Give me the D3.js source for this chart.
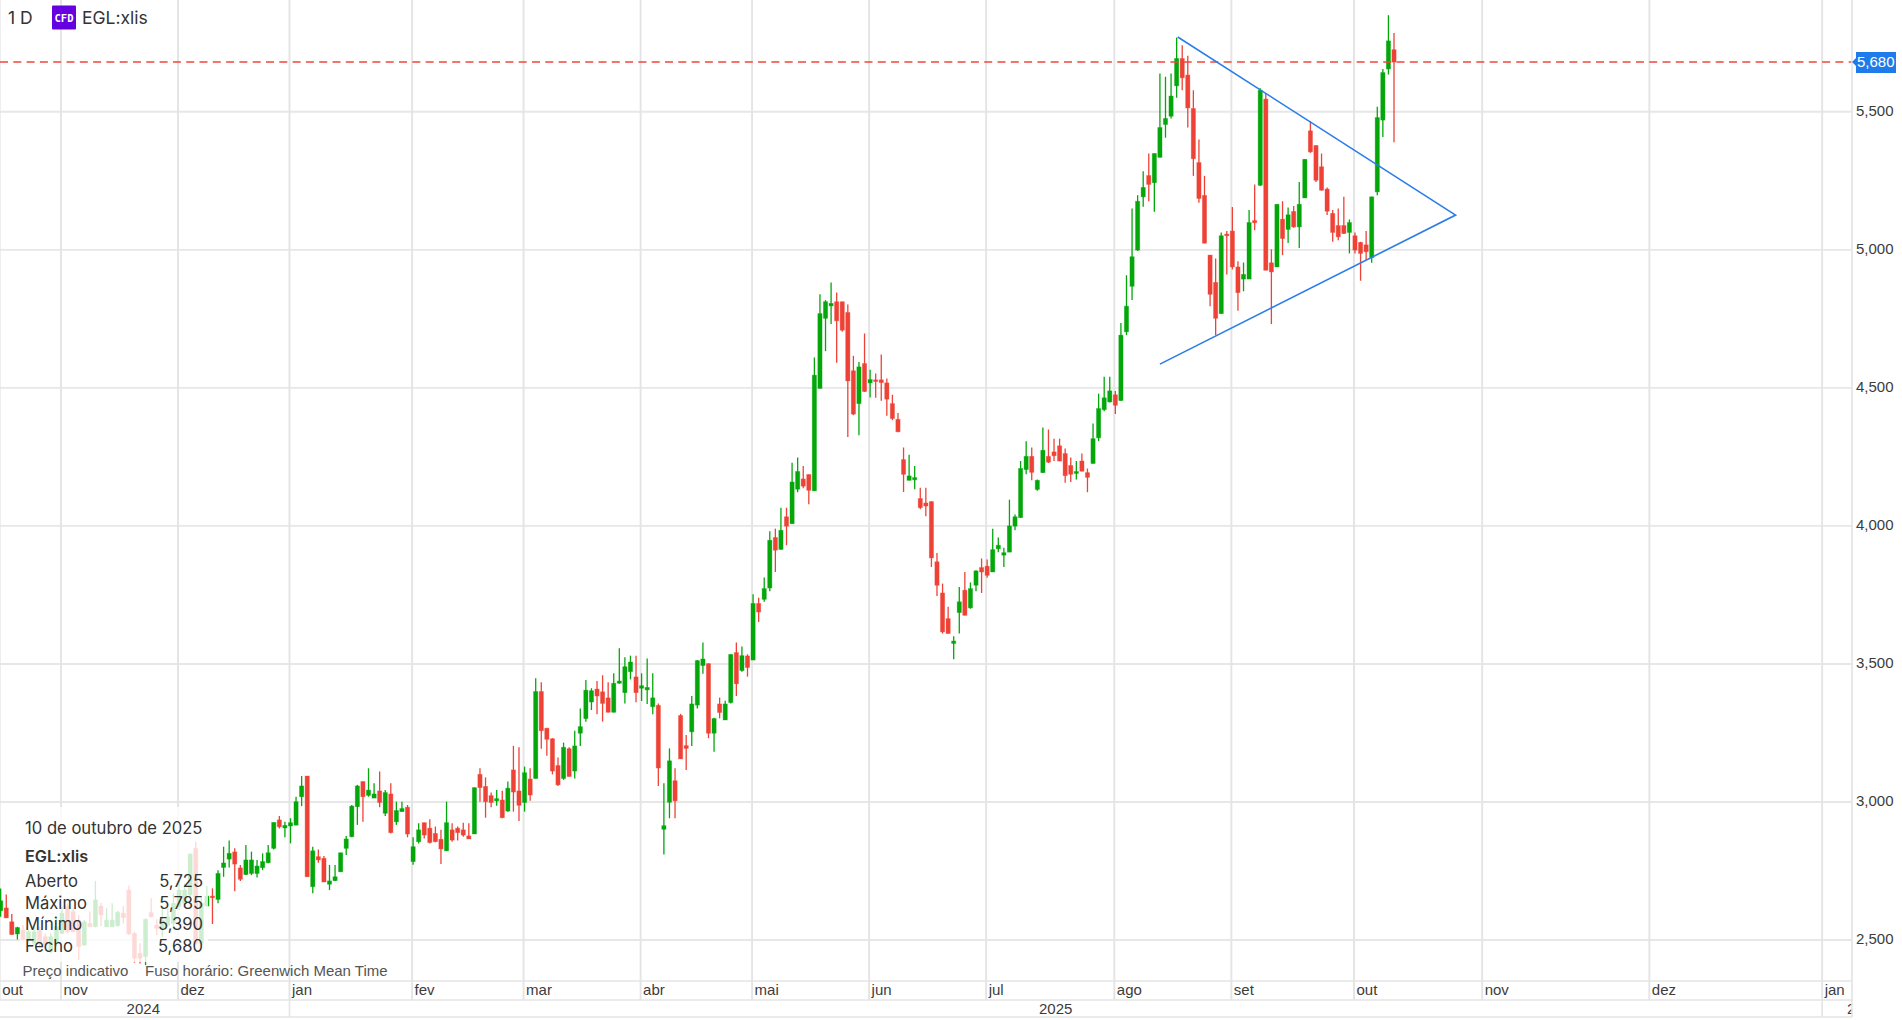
<!DOCTYPE html>
<html><head><meta charset="utf-8">
<script src="https://cdn.jsdelivr.net/npm/d3@7/dist/d3.min.js"></script>
<style>html,body{margin:0;padding:0;background:#fff;overflow:hidden}svg{display:block}
.ax text{font-family:"Liberation Sans",Arial,sans-serif;font-size:15px;fill:#3c3c3c}
.in{font-family:Inter,sans-serif;fill:#333}</style></head><body>
<script>
const opens=[2606,2616,2566,2522,2536,2500,2488,2536,2512,2458,2488,
2524,2621,2603,2572,2482,2560,2548,2623,2548,2548,2552,2597,2681,2524,2452,2440,2599,2554,2542,2554,2560,
2621,2633,2663,2832,2488,2623,2659,2647,2763,2793,2819,2761,2737,2741,2741,2762,2780,2832,2935,2906,
2913,2916,3019,3094,2693,2802,2796,2702,2715,2747,2832,2874,2983,3074,3024,3014,3040,2959,3029,2928,2965,2981,
2784,2856,2925,2905,2886,2865,2823,2899,2905,2899,2877,2884,3100,3056,3023,3004,3007,2967,3116,3040,
2998,3083,3085,3400,3267,3229,3132,3085,3193,3112,3249,3302,3362,3409,3399,3377,3325,3430,3396,3472,3453,
3412,3406,3345,3350,2901,2999,3077,3313,3204,3254,3351,3494,3501,3249,3355,3297,3360,3541,3476,3529,
3514,3719,3734,3775,3958,3915,4033,4008,4133,4170,4186,4127,4498,4752,4797,4812,4812,4773,4562,4443,4588,
4518,4529,4529,4518,4443,4386,4240,4165,4167,4099,4083,4088,3870,3757,3664,3574,3686,3767,3703,3785,3849,
3854,3833,3917,3894,3905,3999,4030,4204,4252,4132,4193,4252,4268,4290,4262,4219,4190,4235,4193,4226,4319,4421,4449,
4475,4454,4703,4868,4999,5192,5269,5243,5335,5454,5484,5594,5693,5633,5512,5316,5197,4981,4882,4769,5057,
5068,4938,4894,4894,5106,5234,5546,4953,4938,5111,5074,5139,5083,5188,5431,5378,5301,5220,5132,5088,5088,5063,
5051,5027,5018,4972,5210,5470,5655,5725];
const highs=[2687,2665,2594,2548,2554,2536,2548,2548,2524,2524,2584,
2620,2633,2615,2591,2572,2603,2714,2635,2615,2633,2605,2623,2697,2530,2488,2578,2651,2575,2621,2615,2669,
2717,2705,2814,2856,2657,2696,2687,2753,2838,2860,2832,2772,2844,2820,2790,2814,2844,2926,2949,2928,
2941,3019,3094,3094,2838,2828,2804,2772,2772,2816,2877,2989,3062,3074,3122,3068,3110,3043,3068,3001,3001,2989,
2872,2923,2925,2937,2911,2899,3001,2923,2911,2925,2923,3052,3122,3089,3034,3043,3041,3074,3203,3198,
3128,3122,3448,3434,3269,3231,3161,3215,3198,3258,3339,3442,3412,3438,3459,3434,3466,3557,3524,3530,3530,
3466,3520,3466,3357,3068,3194,3122,3319,3243,3384,3514,3578,3502,3305,3378,3367,3536,3578,3563,3535,
3752,3740,3813,3981,3990,4066,4066,4229,4248,4217,4186,4610,4839,4818,4882,4845,4812,4802,4616,4594,4697,
4566,4552,4621,4534,4475,4409,4284,4258,4217,4138,4138,4089,3902,3791,3707,3600,3779,3833,3795,3839,3882,
3878,3990,3958,3921,4095,4041,4235,4307,4284,4168,4356,4349,4316,4316,4280,4248,4235,4262,4208,4371,4479,4540,4540,
4489,4735,4908,5150,5198,5285,5349,5349,5639,5627,5639,5769,5741,5703,5578,5400,5268,4981,4969,5063,5068,
5155,4959,4954,5144,5237,5585,5566,5002,5165,5176,5153,5159,5246,5328,5467,5378,5349,5226,5144,5150,5192,5110,
5063,5029,5068,5192,5518,5655,5850,5785];
const lows=[2584,2580,2518,2502,2498,2495,2482,2476,2470,2452,2476,
2522,2524,2527,2428,2479,2546,2546,2551,2546,2546,2548,2560,2518,2418,2415,2409,2582,2518,2512,2548,2542,
2609,2627,2657,2482,2482,2621,2558,2633,2729,2763,2677,2714,2735,2735,2726,2753,2778,2828,2904,2872,
2850,2916,2985,2729,2669,2780,2710,2681,2714,2747,2808,2872,2917,2928,3019,3014,2981,2949,2886,2917,2965,2872,
2773,2850,2868,2850,2854,2775,2823,2856,2860,2874,2866,2884,3001,2943,2981,2986,2941,2965,2965,2931,
2965,3004,3085,3193,3167,3100,3058,3080,3092,3085,3203,3291,3333,3318,3291,3324,3324,3428,3357,3444,3361,
3366,3355,3318,3058,2810,2941,2941,3156,3116,3203,3339,3464,3231,3182,3303,3297,3357,3384,3472,3454,
3514,3652,3725,3763,3833,3914,3930,4007,4122,4136,4078,4127,4498,4633,4731,4591,4703,4322,4401,4328,4485,
4465,4464,4453,4399,4383,4339,4123,4165,4133,4060,4035,3851,3746,3610,3610,3517,3610,3676,3700,3763,3757,
3812,3833,3905,3851,3905,3984,4030,4187,4165,4127,4192,4228,4235,4234,4156,4159,4168,4198,4122,4226,4307,4415,4447,
4405,4453,4691,4818,4996,5156,5176,5138,5335,5406,5476,5551,5578,5443,5268,5171,5024,4796,4691,4768,4911,
4929,4779,4850,4894,5071,5231,4926,4731,4938,4981,5025,5080,5007,5188,5351,5246,5214,5126,5029,5035,5057,4987,
4987,4888,4963,4953,5198,5409,5635,5390];
const closes=[2642,2580,2520,2545,2502,2530,2530,2488,2482,2512,2548,
2597,2530,2530,2476,2566,2548,2645,2591,2572,2572,2600,2581,2522,2434,2434,2575,2584,2542,2572,2584,2633,
2681,2681,2811,2488,2633,2659,2654,2741,2779,2814,2775,2720,2790,2790,2768,2784,2816,2926,2910,2915,
2925,3001,3058,2729,2823,2790,2710,2714,2729,2816,2866,2985,3058,3019,3043,3029,2998,3034,2889,2969,2976,2884,
2838,2899,2880,2853,2856,2830,2925,2862,2889,2880,2866,3052,3052,3001,2998,3012,2943,3050,3036,2988,
3106,3025,3400,3258,3227,3112,3062,3198,3092,3203,3273,3405,3403,3384,3357,3325,3430,3438,3490,3507,3396,
3421,3415,3377,3123,2914,3149,3004,3156,3194,3355,3512,3518,3249,3302,3324,3355,3534,3428,3530,3487,
3719,3688,3773,3948,3912,3984,3999,4159,4197,4144,4129,4546,4769,4812,4806,4743,4709,4525,4405,4576,4487,
4530,4525,4519,4459,4389,4341,4187,4181,4175,4066,4072,3884,3785,3616,3610,3583,3725,3676,3773,3837,3833,
3821,3914,3930,3903,4000,4033,4208,4252,4194,4165,4274,4231,4254,4235,4182,4187,4197,4198,4176,4316,4425,4464,4489,
4437,4691,4796,4975,5176,5226,5237,5349,5443,5476,5557,5693,5623,5514,5330,5186,5024,4839,4752,5051,5051,
4938,4845,4911,5099,5098,5578,4926,4920,5165,5041,5127,5083,5165,5328,5355,5252,5216,5140,5063,5047,5059,5099,
4999,4987,4993,5192,5479,5642,5757,5680];
const yTicks=[2500,3000,3500,4000,4500,5000,5500];
const monthTicks=[0,11,32,52,74,94,115,135,156,177,200,221,243,266,296,327];
const monthLabels=["out","nov","dez","jan","fev","mar","abr","mai","jun","jul","ago","set","out","nov","dez","jan"];
const yearBreaks=[52,327];
const yearPositions=[25.5,189.2,334.2];
const yearLabels=["2024","2025","2026"];
const lastPrice=5680;
const trendIdx=[211.2,261.05,208.0];
const trendVal=[5771,5126,4586];
const tipRows=["Aberto","Máximo","Mínimo","Fecho"];
const tipValues=[5725,5785,5390,5680];

const W=1902,H=1020,plotR=1852,axisT=981,axisM=1000,axisB=1017;
const x=d3.scaleLinear().domain([0,250]).range([0.67,1394]);
const y=d3.scaleLinear().domain([2500,5500]).range([940,111.8]);
const GREEN="#03a70a",RED="#ee4236",GRID="#e4e4e4";
const fmt=d3.format(",");
const svg=d3.select("body").append("svg").attr("width",W).attr("height",H).attr("viewBox",`0 0 ${W} ${H}`);
svg.append("defs").append("clipPath").attr("id","pc").append("rect").attr("width",plotR).attr("height",H);
const root=svg.append("g").attr("clip-path","url(#pc)");

// grid
root.append("g").selectAll("line").data(yTicks).join("line")
 .attr("x1",0).attr("x2",plotR).attr("y1",d=>y(d)).attr("y2",d=>y(d)).attr("stroke","#e7e7e7").attr("stroke-width",1.9);
root.append("g").selectAll("line").data(monthTicks).join("line")
 .attr("x1",d=>x(d)-1).attr("x2",d=>x(d)-1).attr("y1",0).attr("y2",axisM).attr("stroke",GRID).attr("stroke-width",1.9);
root.append("g").selectAll("line").data(yearBreaks).join("line")
 .attr("x1",d=>x(d)-1).attr("x2",d=>x(d)-1).attr("y1",axisM).attr("y2",axisB).attr("stroke",GRID).attr("stroke-width",1.6);
[axisT,axisM,axisB].forEach(v=>root.append("line").attr("x1",0).attr("x2",plotR).attr("y1",v).attr("y2",v).attr("stroke",GRID).attr("stroke-width",1.7));
svg.append("line").attr("x1",plotR).attr("x2",plotR).attr("y1",0).attr("y2",axisB).attr("stroke",GRID).attr("stroke-width",1.7);

// candles
const idx=d3.range(opens.length);
const col=i=>closes[i]>=opens[i]?GREEN:RED;
const c=root.append("g");
c.selectAll("line").data(idx).join("line")
 .attr("x1",i=>x(i)).attr("x2",i=>x(i)).attr("y1",i=>y(highs[i])).attr("y2",i=>y(lows[i]))
 .attr("stroke",col).attr("stroke-width",1.3);
c.selectAll("rect").data(idx).join("rect")
 .attr("x",i=>x(i)-2.1).attr("width",4.2)
 .attr("y",i=>y(Math.max(opens[i],closes[i])))
 .attr("height",i=>Math.max(1.6,Math.abs(y(opens[i])-y(closes[i]))))
 .attr("fill",col).attr("stroke",col).attr("stroke-opacity",.45).attr("stroke-width",.8);

// last price line and trend lines
root.append("line").attr("x1",0).attr("x2",plotR).attr("y1",y(lastPrice)).attr("y2",y(lastPrice))
 .attr("stroke","#f0473c").attr("stroke-width",1.5).attr("stroke-dasharray","8 5.3");
const tri=trendIdx.map((t,i)=>[t,trendVal[i]]);
root.append("path").datum(tri).attr("fill","none").attr("stroke","#2b7de9").attr("stroke-width",1.6)
 .attr("d",d3.line().x(d=>x(d[0])).y(d=>y(d[1])));

// axes
const yAxis=svg.append("g").attr("class","ax").attr("transform",`translate(${plotR},0)`)
 .call(d3.axisRight(y).tickValues(yTicks).tickSize(0).tickPadding(4).tickFormat(fmt));
yAxis.select(".domain").remove();
yAxis.selectAll("text").attr("dy","0.32em").attr("transform","translate(0,-1)");
const mAxis=root.append("g").attr("class","ax").attr("transform",`translate(0,${axisT})`)
 .call(d3.axisBottom(x).tickValues(monthTicks).tickSize(0).tickPadding(0).tickFormat((d,i)=>monthLabels[i]));
mAxis.select(".domain").remove();
mAxis.selectAll("text").attr("text-anchor","start").attr("x",1).attr("y",14).attr("dy",0);
const yrAxis=root.append("g").attr("class","ax").attr("transform",`translate(0,${axisM})`)
 .call(d3.axisBottom(x).tickValues(yearPositions).tickSize(0).tickFormat((d,i)=>yearLabels[i]));
yrAxis.select(".domain").remove();
yrAxis.selectAll("text").attr("y",14).attr("dy",0);

// price tag
const py=y(lastPrice);
svg.append("path").attr("fill","#1f7bea")
 .attr("d",`M${plotR} ${py} L${plotR+4} ${py-4} V${py-10} H${W-6} V${py+11} H${plotR+4} V${py+4} Z`);
svg.append("text").attr("x",plotR+5).attr("y",py+5).attr("fill","#fff")
 .style("font",'15px "Liberation Sans",Arial,sans-serif').text(fmt(lastPrice));

// header
svg.append("text").attr("class","in").attr("x",8).attr("y",24).style("font-size","17.5px").text("1 D");
svg.append("rect").attr("x",52).attr("y",5.5).attr("width",24).attr("height",24).attr("rx",1).attr("fill","#6500e0");
svg.append("text").attr("x",64).attr("y",22).attr("text-anchor","middle").attr("fill","#fff")
 .style("font",'bold 10.5px "DejaVu Sans Mono",monospace').text("CFD");
svg.append("text").attr("class","in").attr("x",82).attr("y",24).style("font-size","17.5px").text("EGL:xlis");

// tooltip panel
svg.append("rect").attr("x",20).attr("y",807).attr("width",188).attr("height",155).attr("fill","#fff").attr("fill-opacity",.8);
svg.append("text").attr("class","in").attr("x",25).attr("y",834).style("font-size","16.6px").text("10 de outubro de 2025");
svg.append("text").attr("class","in").attr("x",25).attr("y",862).style("font-size","16.3px").style("font-weight",600).text("EGL:xlis");
const rowY=d3.scaleLinear().domain([0,3]).range([887,951.5]);
svg.append("g").selectAll("text").data(tipRows).join("text").attr("class","in")
 .attr("x",25).attr("y",(d,i)=>rowY(i)).style("font-size","16.6px").text(d=>d);
svg.append("g").selectAll("text").data(tipValues).join("text").attr("class","in")
 .attr("x",203).attr("y",(d,i)=>rowY(i)).attr("text-anchor","end").style("font-size","16.6px").text(fmt);
const ft='15px "Liberation Sans",Arial,sans-serif';
svg.append("text").attr("x",22.5).attr("y",975.5).attr("fill","#555").style("font",ft).text("Preço indicativo");
svg.append("text").attr("x",145).attr("y",975.5).attr("fill","#555").style("font",ft).text("Fuso horário: Greenwich Mean Time");
</script></body></html>
